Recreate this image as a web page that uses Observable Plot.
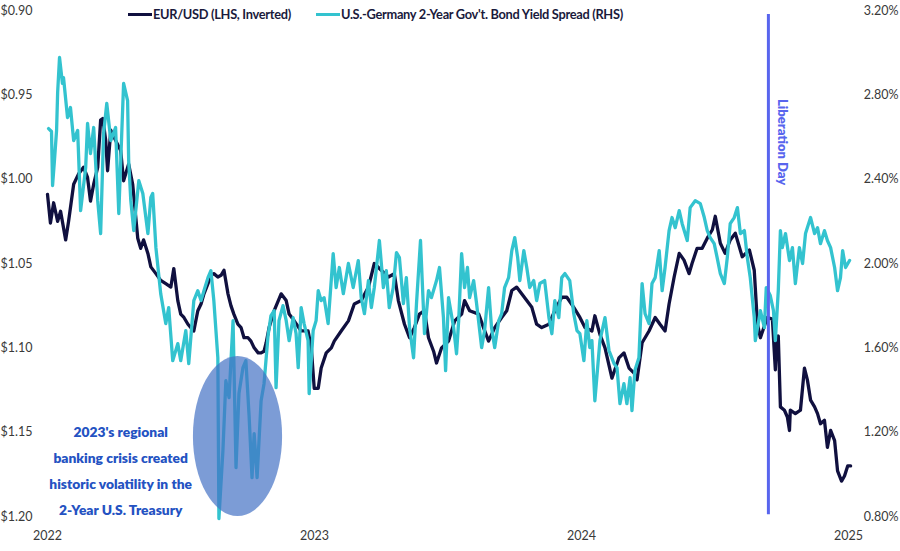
<!DOCTYPE html>
<html>
<head>
<meta charset="utf-8">
<script src="https://cdn.jsdelivr.net/npm/d3@7"></script>
<script src="https://cdn.jsdelivr.net/npm/@observablehq/plot@0.6"></script>
<style>
  html, body { margin: 0; padding: 0; background: #ffffff; }
  #wrap { position: relative; width: 900px; height: 551px; font-family: Lato, "Open Sans", sans-serif; }
  #legend { position: absolute; top: 6px; left: 128px; display: flex; align-items: center; font-weight: 700; font-size: 12.8px; letter-spacing: -0.3px; color: #1a1a3c; white-space: nowrap; }
  .item { display: flex; align-items: center; }
  .sw { display: inline-block; width: 24px; height: 3px; margin-right: 1px; }
  .gap { width: 25px; }
</style>
</head>
<body>
<div id="wrap"><div id="legend"></div></div>
<script>
// ---------- data ----------
const seriesNames = ["EUR/USD (LHS, Inverted)", "U.S.-Germany 2-Year Gov't. Bond Yield Spread (RHS)"];
const seriesColors = ["#10103f", "#33c3cf"];

// [year, EUR/USD]
const eurUsd = [[2022.000,1.009],[2022.011,1.026],[2022.023,1.014],[2022.038,1.025],[2022.049,1.019],[2022.068,1.036],[2022.079,1.025],[2022.098,1.003],[2022.116,0.997],[2022.135,0.993],[2022.150,0.999],[2022.161,1.013],[2022.173,1.003],[2022.188,0.993],[2022.199,0.965],[2022.207,0.964],[2022.218,0.977],[2022.225,0.995],[2022.237,0.971],[2022.255,0.977],[2022.274,0.983],[2022.285,1.001],[2022.304,0.991],[2022.319,1.003],[2022.338,1.035],[2022.349,1.041],[2022.360,1.036],[2022.376,1.044],[2022.387,1.052],[2022.406,1.056],[2022.424,1.060],[2022.443,1.062],[2022.462,1.064],[2022.473,1.053],[2022.488,1.072],[2022.499,1.080],[2022.511,1.082],[2022.526,1.086],[2022.537,1.088],[2022.548,1.090],[2022.563,1.078],[2022.575,1.074],[2022.586,1.068],[2022.601,1.062],[2022.612,1.057],[2022.623,1.056],[2022.638,1.058],[2022.650,1.057],[2022.661,1.054],[2022.676,1.068],[2022.687,1.075],[2022.698,1.080],[2022.713,1.086],[2022.725,1.088],[2022.736,1.094],[2022.751,1.094],[2022.762,1.096],[2022.774,1.100],[2022.789,1.103],[2022.800,1.103],[2022.811,1.102],[2022.819,1.097],[2022.830,1.088],[2022.849,1.078],[2022.875,1.068],[2022.894,1.072],[2022.905,1.080],[2022.924,1.084],[2022.950,1.090],[2022.976,1.090],[2022.988,1.100],[2022.999,1.124],[2023.014,1.124],[2023.025,1.112],[2023.044,1.103],[2023.063,1.100],[2023.074,1.096],[2023.100,1.090],[2023.127,1.084],[2023.149,1.074],[2023.175,1.072],[2023.202,1.064],[2023.224,1.050],[2023.250,1.054],[2023.277,1.058],[2023.299,1.056],[2023.314,1.072],[2023.337,1.086],[2023.356,1.094],[2023.374,1.088],[2023.393,1.080],[2023.412,1.078],[2023.427,1.094],[2023.446,1.102],[2023.457,1.109],[2023.476,1.100],[2023.502,1.096],[2023.525,1.084],[2023.551,1.080],[2023.562,1.072],[2023.581,1.078],[2023.615,1.080],[2023.633,1.088],[2023.652,1.096],[2023.675,1.088],[2023.701,1.082],[2023.720,1.078],[2023.739,1.066],[2023.757,1.064],[2023.776,1.068],[2023.795,1.072],[2023.814,1.076],[2023.832,1.086],[2023.851,1.088],[2023.878,1.086],[2023.900,1.078],[2023.926,1.070],[2023.945,1.070],[2023.971,1.076],[2023.994,1.082],[2024.013,1.088],[2024.039,1.090],[2024.050,1.081],[2024.069,1.092],[2024.088,1.100],[2024.114,1.118],[2024.140,1.106],[2024.159,1.103],[2024.178,1.112],[2024.197,1.115],[2024.208,1.119],[2024.227,1.097],[2024.253,1.090],[2024.276,1.082],[2024.294,1.086],[2024.313,1.090],[2024.328,1.074],[2024.347,1.058],[2024.366,1.044],[2024.384,1.048],[2024.403,1.056],[2024.414,1.050],[2024.433,1.041],[2024.452,1.041],[2024.471,1.035],[2024.490,1.030],[2024.501,1.022],[2024.520,1.038],[2024.538,1.044],[2024.557,1.036],[2024.576,1.032],[2024.602,1.046],[2024.629,1.042],[2024.647,1.054],[2024.659,1.086],[2024.670,1.094],[2024.685,1.087],[2024.696,1.082],[2024.715,1.083],[2024.726,1.113],[2024.730,1.097],[2024.737,1.093],[2024.745,1.135],[2024.760,1.137],[2024.771,1.141],[2024.779,1.149],[2024.782,1.137],[2024.801,1.139],[2024.820,1.137],[2024.835,1.112],[2024.846,1.119],[2024.858,1.131],[2024.873,1.135],[2024.884,1.139],[2024.895,1.145],[2024.910,1.143],[2024.921,1.159],[2024.933,1.149],[2024.948,1.155],[2024.959,1.173],[2024.974,1.179],[2024.985,1.176],[2024.997,1.170],[2025.008,1.170]];

// [year, spread %]
const yieldSpread = [[2022.004,2.640],[2022.015,2.626],[2022.019,2.370],[2022.026,2.488],[2022.034,2.631],[2022.038,2.811],[2022.045,2.977],[2022.056,2.854],[2022.060,2.882],[2022.075,2.692],[2022.086,2.740],[2022.098,2.583],[2022.113,2.631],[2022.124,2.251],[2022.143,2.455],[2022.150,2.664],[2022.161,2.521],[2022.173,2.645],[2022.188,2.298],[2022.199,2.142],[2022.210,2.616],[2022.222,2.759],[2022.237,2.583],[2022.255,2.645],[2022.267,2.237],[2022.285,2.854],[2022.300,2.773],[2022.304,2.488],[2022.312,2.298],[2022.323,2.156],[2022.342,2.393],[2022.357,2.332],[2022.376,2.142],[2022.387,2.313],[2022.394,2.332],[2022.406,2.075],[2022.424,1.857],[2022.443,1.715],[2022.454,1.791],[2022.469,1.539],[2022.488,1.620],[2022.499,1.539],[2022.518,1.682],[2022.529,1.525],[2022.548,1.824],[2022.563,1.871],[2022.575,1.824],[2022.586,1.871],[2022.601,1.933],[2022.612,1.966],[2022.623,1.824],[2022.638,1.553],[2022.642,0.790],[2022.657,1.112],[2022.668,1.444],[2022.680,1.364],[2022.695,1.729],[2022.706,1.032],[2022.717,1.383],[2022.732,1.506],[2022.743,1.539],[2022.755,1.278],[2022.766,0.984],[2022.774,1.193],[2022.785,0.984],[2022.800,1.349],[2022.811,1.430],[2022.826,1.658],[2022.837,1.753],[2022.849,1.776],[2022.856,1.411],[2022.867,1.729],[2022.882,1.800],[2022.894,1.729],[2022.905,1.634],[2022.920,1.743],[2022.931,1.667],[2022.939,1.506],[2022.950,1.791],[2022.961,1.715],[2022.976,1.634],[2022.980,1.383],[2022.995,1.682],[2023.006,1.729],[2023.014,1.871],[2023.025,1.824],[2023.036,1.838],[2023.051,1.715],[2023.070,2.047],[2023.081,1.886],[2023.093,1.981],[2023.108,1.857],[2023.127,2.000],[2023.145,1.886],[2023.164,2.014],[2023.175,1.838],[2023.187,1.762],[2023.202,1.919],[2023.213,1.791],[2023.224,1.886],[2023.243,2.109],[2023.258,1.886],[2023.269,1.966],[2023.280,1.791],[2023.295,1.886],[2023.307,2.052],[2023.318,2.028],[2023.333,1.810],[2023.344,1.933],[2023.356,1.696],[2023.371,1.553],[2023.382,1.810],[2023.397,2.109],[2023.412,1.667],[2023.427,1.871],[2023.438,1.838],[2023.457,1.919],[2023.468,1.981],[2023.483,1.743],[2023.491,1.492],[2023.502,1.838],[2023.521,1.696],[2023.532,1.572],[2023.540,1.729],[2023.551,2.047],[2023.562,1.886],[2023.573,1.981],[2023.581,1.838],[2023.596,1.919],[2023.607,1.810],[2023.626,1.601],[2023.637,1.682],[2023.652,1.886],[2023.663,1.696],[2023.675,1.601],[2023.690,1.729],[2023.701,1.762],[2023.712,1.886],[2023.727,1.933],[2023.739,2.061],[2023.750,2.123],[2023.761,2.028],[2023.769,1.919],[2023.784,2.061],[2023.795,1.981],[2023.806,1.886],[2023.821,1.919],[2023.832,1.824],[2023.844,1.905],[2023.862,1.919],[2023.878,1.743],[2023.889,1.667],[2023.900,1.824],[2023.915,1.743],[2023.926,1.933],[2023.938,1.952],[2023.956,1.919],[2023.971,1.762],[2023.983,1.682],[2023.994,1.667],[2024.009,1.539],[2024.020,1.729],[2024.031,1.601],[2024.039,1.634],[2024.050,1.349],[2024.069,1.634],[2024.088,1.743],[2024.103,1.587],[2024.122,1.525],[2024.133,1.506],[2024.144,1.335],[2024.159,1.430],[2024.170,1.335],[2024.182,1.459],[2024.189,1.302],[2024.200,1.492],[2024.215,1.553],[2024.227,1.905],[2024.238,1.762],[2024.253,1.715],[2024.264,1.905],[2024.276,1.933],[2024.291,2.061],[2024.302,1.871],[2024.313,1.981],[2024.328,2.156],[2024.339,2.218],[2024.351,2.170],[2024.366,2.251],[2024.377,2.189],[2024.396,2.109],[2024.407,2.265],[2024.426,2.298],[2024.445,2.284],[2024.460,2.218],[2024.471,2.156],[2024.482,2.123],[2024.497,2.094],[2024.508,2.028],[2024.520,1.952],[2024.535,1.905],[2024.546,2.028],[2024.557,2.189],[2024.572,2.218],[2024.584,2.265],[2024.595,2.142],[2024.610,2.156],[2024.621,2.028],[2024.632,1.933],[2024.647,1.743],[2024.651,1.634],[2024.670,1.776],[2024.685,1.696],[2024.692,1.886],[2024.707,1.848],[2024.719,1.776],[2024.726,1.634],[2024.737,1.871],[2024.745,2.156],[2024.752,2.075],[2024.764,2.142],[2024.779,2.014],[2024.790,2.075],[2024.801,1.905],[2024.816,2.075],[2024.828,2.000],[2024.839,2.142],[2024.858,2.218],[2024.873,2.142],[2024.884,2.170],[2024.895,2.094],[2024.910,2.156],[2024.921,2.109],[2024.933,2.075],[2024.948,1.981],[2024.959,1.871],[2024.970,1.933],[2024.978,2.061],[2024.989,1.981],[2025.004,2.014]];

const xTicks = [2022, 2023, 2024, 2025];
const leftTicks = [0.90, 0.95, 1.00, 1.05, 1.10, 1.15, 1.20];
const rightTicks = [3.20, 2.80, 2.40, 2.00, 1.60, 1.20, 0.80];

// annotations
const libDay = [{x: 2024.700, y1: 0.9024, y2: 1.1989, label: "Liberation Day", labelY: 0.978}];
const crisisEllipse = {x: 2022.7135, y: 1.1526, rx: 0.167, ry: 0.0474};
const crisisNote = [{x: 2022.274, y: 1.171, text: "2023's regional\nbanking crisis created\nhistoric volatility in the\n2-Year U.S. Treasury"}];

// ---------- dual axis mapping (RHS onto LHS scale) ----------
const spreadToEur = s => 0.90 + (3.20 - s) * 0.125;
const eurToSpread = v => 3.20 - (v - 0.90) / 0.125;

const libColor = "#5865ee";

// ---------- legend ----------
const legend = document.getElementById("legend");
seriesNames.forEach((name, i) => {
  if (i > 0) { const g = document.createElement("span"); g.className = "gap"; legend.appendChild(g); }
  const it = document.createElement("span"); it.className = "item";
  const sw = document.createElement("span"); sw.className = "sw"; sw.style.background = seriesColors[i];
  const tx = document.createElement("span"); tx.textContent = name;
  it.appendChild(sw); it.appendChild(tx); legend.appendChild(it);
});

// ---------- plot ----------
const chart = Plot.plot({
  width: 900,
  height: 551,
  marginTop: 10,
  marginBottom: 35,
  marginLeft: 47,
  marginRight: 52,
  style: {fontFamily: "Lato, 'Open Sans', sans-serif", fontSize: "12.5px", color: "#3a3a3a", background: "transparent", overflow: "visible"},
  x: {domain: [2022, 2025], axis: null},
  y: {domain: [1.20, 0.90], axis: null},
  marks: [
    Plot.axisY(leftTicks, {anchor: "left", label: null, tickSize: 0, tickPadding: 47, textAnchor: "start", tickFormat: v => "$" + v.toFixed(2)}),
    Plot.axisY(rightTicks.map(spreadToEur), {anchor: "right", label: null, tickSize: 0, tickPadding: 50, textAnchor: "end", tickFormat: v => eurToSpread(v).toFixed(2) + "%"}),
    Plot.axisX(xTicks, {anchor: "bottom", label: null, tickSize: 0, tickPadding: 15, tickFormat: d => String(d)}),
    Plot.line(eurUsd, {x: d => d[0], y: d => d[1], stroke: seriesColors[0], strokeWidth: 3.3, strokeLinejoin: "round"}),
    Plot.line(yieldSpread, {x: d => d[0], y: d => spreadToEur(d[1]), stroke: seriesColors[1], strokeWidth: 3.3, strokeLinejoin: "round"}),
    (index, scales) => {
      const cx = scales.x(crisisEllipse.x), cy = scales.y(crisisEllipse.y);
      const rx = Math.abs(scales.x(crisisEllipse.x + crisisEllipse.rx) - cx);
      const ry = Math.abs(scales.y(crisisEllipse.y + crisisEllipse.ry) - cy);
      const e = d3.create("svg:ellipse")
        .attr("cx", cx).attr("cy", cy).attr("rx", rx).attr("ry", ry)
        .attr("fill", "#4472c4").attr("fill-opacity", 0.7);
      return e.node();
    },
    Plot.text(crisisNote, {x: "x", y: "y", text: "text", lineHeight: 1.9, fontWeight: 800, fontSize: 13.8, fill: "#2452c2", textAnchor: "middle"}),
    Plot.ruleX(libDay, {x: "x", y1: "y1", y2: "y2", stroke: libColor, strokeWidth: 3}),
    Plot.text(libDay, {x: "x", y: "labelY", text: "label", rotate: 90, dx: 14, fontWeight: 800, fontSize: 13, fill: libColor})
  ]
});
document.getElementById("wrap").insertBefore(chart, document.getElementById("legend"));
</script>
</body>
</html>
